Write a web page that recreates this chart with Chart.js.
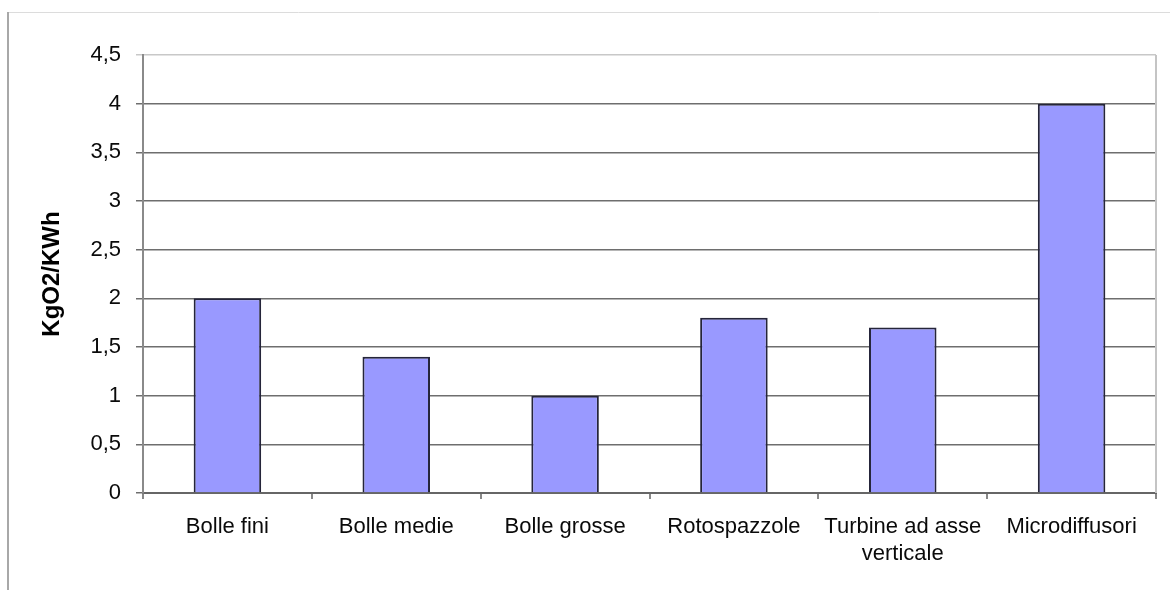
<!DOCTYPE html>
<html>
<head>
<meta charset="utf-8">
<script src="https://cdn.jsdelivr.net/npm/chart.js@4"></script>
<style>
  html, body { margin: 0; padding: 0; background: #fff; }
  #wrap { width: 1170px; height: 590px; }
</style>
</head>
<body>
<div id="wrap"><canvas id="myChart" width="1170" height="590"></canvas></div>
<script>
// categories and values
const categories = ['Bolle fini', 'Bolle medie', 'Bolle grosse', 'Rotospazzole', ['Turbine ad asse', 'verticale'], 'Microdiffusori'];
const values = [2, 1.4, 1, 1.8, 1.7, 4];
const yTitle = 'KgO2/KWh';

// outer frame + right border of the plot
const framePlugin = {
	id: 'frame',
	beforeDraw(chart) {
		const c = chart.ctx;
		c.save();
		c.fillStyle = '#ffffff';
		c.fillRect(0, 0, chart.width, chart.height);
		c.strokeStyle = '#dcdcdc';
		c.lineWidth = 1;
		c.beginPath();
		c.moveTo(8, 12.5);
		c.lineTo(chart.width, 12.5);
		c.stroke();
		c.strokeStyle = '#a8a8a8';
		c.lineWidth = 2;
		c.beginPath();
		c.moveTo(8, 12);
		c.lineTo(8, chart.height);
		c.stroke();
		c.restore();
	},
	afterDatasetsDraw(chart) {
		const a = chart.chartArea;
		const c = chart.ctx;
		c.save();
		c.strokeStyle = '#c4c4c4';
		c.lineWidth = 2;
		c.beginPath();
		c.moveTo(a.right, a.top);
		c.lineTo(a.right, a.bottom);
		c.stroke();
		c.restore();
	}
};

let ctx = document.getElementById('myChart').getContext('2d');
new Chart(ctx, {
	type: 'bar',
	data: {
		labels: categories,
		datasets: [
			{
				data: values,
				backgroundColor: '#9999ff',
				borderColor: '#25253a',
				borderWidth: 2,
				categoryPercentage: 1,
				barPercentage: 0.4,
			},
		],
	},
	options: {
		responsive: false,
		animation: false,
		layout: { padding: { left: 0, top: 55, right: 14, bottom: 0 } },
		plugins: { legend: { display: false }, tooltip: { enabled: false } },
		scales: {
			x: {
				grid: {
					offset: true,
					drawOnChartArea: false,
					color: '#888888',
					tickLength: 6,
					lineWidth: 2,
				},
				border: { color: '#666666', width: 2 },
				ticks: {
					color: '#0a0a0a',
					font: { family: 'Liberation Sans, Arial', size: 22 },
					padding: 15,
					maxRotation: 0,
					autoSkip: false,
				},
				afterFit: (s) => { s.height = 97; },
			},
			y: {
				min: 0,
				max: 4.5,
				ticks: {
					stepSize: 0.5,
					color: '#0a0a0a',
					font: { family: 'Liberation Sans, Arial', size: 22 },
					padding: 15,
					callback: (v) => String(v).replace('.', ','),
				},
				grid: {
					color: (c) => (c.tick && c.tick.value === 4.5 ? '#c8c8c8' : '#6e6e6e'),
					lineWidth: 1.5,
					tickLength: 7,
				},
				border: { color: '#8a8a8a', width: 2 },
				title: {
					display: true,
					text: yTitle,
					color: '#000000',
					font: { family: 'Liberation Sans, Arial', size: 24, weight: 'bold' },
					padding: { top: 38, bottom: 0 },
				},
				afterFit: (s) => { s.width = 143; },
			},
		},
	},
	plugins: [framePlugin],
});
</script>
</body>
</html>
